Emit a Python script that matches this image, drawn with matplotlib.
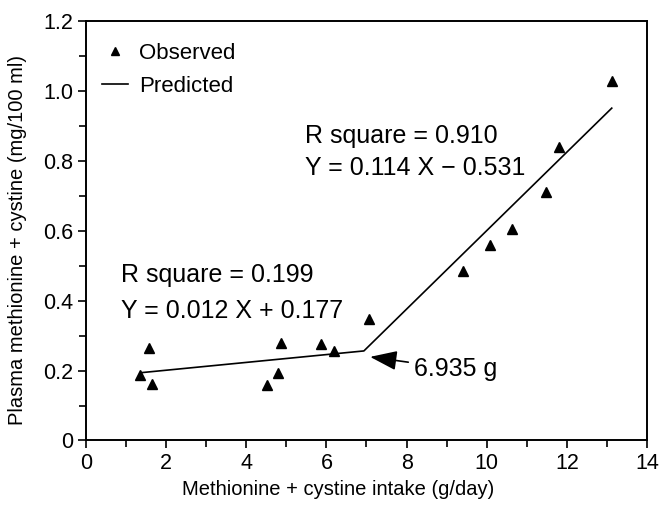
import matplotlib
matplotlib.use("Agg")
import matplotlib.pyplot as plt
from matplotlib.lines import Line2D

plt.rcParams['font.family'] = ['Liberation Sans', 'DejaVu Sans']

# Observed data
obs_x = [1.35, 1.58, 1.64, 4.51, 4.80, 4.87, 5.86, 6.19, 7.05,
         9.40, 10.07, 10.63, 11.48, 11.80, 13.12]
obs_y = [0.187, 0.263, 0.161, 0.158, 0.192, 0.278, 0.275, 0.256, 0.346,
         0.485, 0.558, 0.605, 0.711, 0.839, 1.028]

# Predicted (broken-line) fit
pred_x = [1.39, 6.935, 13.12]
pred_y = [0.194, 0.256, 0.950]

x_ticks = [0, 2, 4, 6, 8, 10, 12, 14]
x_ticklabels = ['0', '2', '4', '6', '8', '10', '12', '14']
y_ticks = [0, 0.2, 0.4, 0.6, 0.8, 1.0, 1.2]
y_ticklabels = ['0', '0.2', '0.4', '0.6', '0.8', '1.0', '1.2']

fig = plt.figure(figsize=(6.68, 5.08), dpi=100)
ax = fig.add_axes([0.1287, 0.1329, 0.8399, 0.8264])

ax.plot(obs_x, obs_y, linestyle='none', marker='^', color='black', markersize=7.5)
ax.plot(pred_x, pred_y, color='black', linewidth=1.2)

ax.set_xlim(0, 14)
ax.set_ylim(0, 1.2)
ax.set_xticks(x_ticks)
ax.set_xticklabels(x_ticklabels)
ax.set_yticks(y_ticks)
ax.set_yticklabels(y_ticklabels)
ax.set_xticks([1, 3, 5, 7, 9, 11, 13], minor=True)
ax.set_yticks([0.1, 0.3, 0.5, 0.7, 0.9, 1.1], minor=True)
ax.tick_params(which='major', direction='out', length=6, width=1.2, labelsize=15.5, pad=3)
ax.tick_params(which='minor', direction='out', length=5, width=1.2)
for s in ax.spines.values():
    s.set_linewidth(1.4)

ax.set_xlabel('Methionine + cystine intake (g/day)', fontsize=14.5)
ax.set_ylabel('Plasma methionine + cystine (mg/100 ml)', fontsize=14.5)
ax.xaxis.set_label_coords(0.449, -0.094)
ax.yaxis.set_label_coords(-0.105, 0.477)

fs = 18
ax.text(5.47, 0.870, 'R square = 0.910', fontsize=fs, va='center', ha='left')
ax.text(5.47, 0.779, 'Y = 0.114 X \u2212 0.531', fontsize=fs, va='center', ha='left')
ax.text(0.87, 0.473, 'R square = 0.199', fontsize=fs, va='center', ha='left')
ax.text(0.87, 0.370, 'Y = 0.012 X + 0.177', fontsize=fs, va='center', ha='left')

ax.annotate('6.935 g', xy=(7.09, 0.239), xytext=(8.18, 0.205),
            fontsize=fs, va='center', ha='left',
            arrowprops=dict(arrowstyle='-|>,head_length=0.55,head_width=0.2',
                            mutation_scale=30, color='black', lw=1.2,
                            shrinkA=2, shrinkB=0))

handles = [Line2D([], [], linestyle='none', marker='^', color='black', markersize=6),
           Line2D([], [], color='black', linewidth=1.2)]
ax.legend(handles, ['Observed', 'Predicted'], loc='upper left', frameon=False,
          fontsize=16, handlelength=1.2, handletextpad=0.5, borderaxespad=0.3,
          labelspacing=0.55, bbox_to_anchor=(0.0, 0.985))

fig.savefig('out.png', dpi=100)
